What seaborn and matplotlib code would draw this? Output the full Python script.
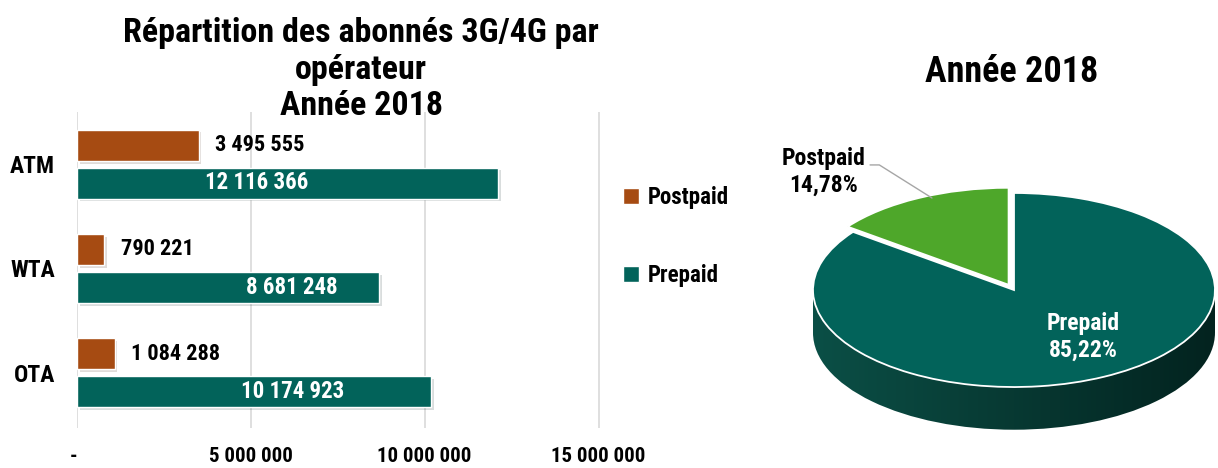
import numpy as np
import pandas as pd
import matplotlib.pyplot as plt
import matplotlib.patheffects as pe
from matplotlib.colors import LinearSegmentedColormap
from matplotlib.patches import Rectangle, Ellipse
import seaborn as sns

sns.set_style('white')
plt.rcParams['font.family'] = ['Roboto Condensed', 'DejaVu Sans']
plt.rcParams['font.weight'] = 'bold'
plt.rcParams['text.color'] = 'black'
plt.rcParams['xtick.color'] = 'black'
plt.rcParams['ytick.color'] = 'black'

# data
operators = ['ATM', 'WTA', 'OTA']
postpaid = [3495555, 790221, 1084288]
prepaid = [12116366, 8681248, 10174923]
types = ['Postpaid', 'Prepaid']
pie_labels = ['Postpaid', 'Prepaid']
pie_share = [14.78, 85.22]
xticks = [0, 5000000, 10000000, 15000000]

bar_colors = ['#A64B12', '#02635A']
pie_colors = ['#4EA72A', '#02635A']

def fmt(v):
    return f"{v:,}".replace(",", " ")

df = pd.DataFrame({
    'operator': operators * 2,
    'value': postpaid + prepaid,
    'type': ['Postpaid'] * 3 + ['Prepaid'] * 3,
})

fig = plt.figure(figsize=(12.18, 4.68), dpi=100)

# bar chart
ax = fig.add_axes([77 / 1218, 40 / 468, 525 / 1218, 316 / 468])
sns.barplot(data=df, y='operator', x='value', hue='type', hue_order=types,
            orient='h', palette=bar_colors, width=0.727, gap=0.18,
            saturation=1, ax=ax)
for p in ax.patches:
    p.set_path_effects([pe.SimplePatchShadow(offset=(2, -2), alpha=0.15), pe.Normal()])

ax.set_xlim(0, 15100000)
ax.set_ylim(2.53, -0.5)
ax.set_xticks(xticks)
ax.set_xticklabels(['-'] + [fmt(t) for t in xticks[1:]])
ax.get_xticklabels()[0].set_horizontalalignment('right')
ax.grid(axis='x', color='#D9D9D9', lw=1.2)
ax.set_axisbelow(True)
sns.despine(ax=ax, left=True, bottom=True)
ax.tick_params(axis='x', length=0, pad=14, labelsize=15)
ax.tick_params(axis='y', length=0, pad=16, labelsize=17)
ax.set_xlabel('')
ax.set_ylabel('')

ax.bar_label(ax.containers[0], labels=[fmt(v) for v in postpaid],
             padding=12, fontsize=16, color='black')
prepaid_label_x = [5.18e6, 6.19e6, 6.19e6]
for i, v in enumerate(prepaid):
    ax.text(prepaid_label_x[i], i + 0.18, fmt(v), color='white', fontsize=16.5,
            ha='center', va='center')

sns.move_legend(ax, loc='upper left', bbox_to_anchor=(1.0, 0.83), frameon=False,
                title=None, fontsize=16.5, labelspacing=2.4, handlelength=0.7,
                handleheight=0.7, handletextpad=0.4)

fig.text(361 / 1218, 1 - 17 / 468,
         "Répartition des abonnés 3G/4G par\nopérateur\nAnnée 2018",
         ha='center', va='top', fontsize=24.5, linespacing=1.18)

# pie chart (3D look)
ax2 = fig.add_axes([793 / 1218, 18 / 468, 425 / 1218, 310 / 468])
d = 0.44
side = np.linspace(0, 1, 256).reshape(1, -1)
cmap = LinearSegmentedColormap.from_list('side', ['#0B4F46', '#03231F'])
rect = Rectangle((-1, -d), 2, d, transform=ax2.transData, facecolor='none', edgecolor='none')
ell = Ellipse((0, -d), 2, 2, transform=ax2.transData, facecolor='none', edgecolor='none')
ax2.add_patch(rect)
ax2.add_patch(ell)
for clip in [rect, ell]:
    im = ax2.imshow(side, cmap=cmap, extent=[-1, 1, -d - 1, 0], aspect='auto', zorder=0)
    im.set_clip_path(clip)

ax2.pie(pie_share, colors=pie_colors, startangle=90, counterclock=True,
        explode=[0.06, 0], wedgeprops=dict(edgecolor='white', linewidth=1.3))
ax2.set_aspect('auto')
ax2.set_xlim(-1.0995, 1.015)
ax2.set_ylim(-1.649, 1.546)
ax2.axis('off')

ax2.text(0.343, -0.485, f"{pie_labels[1]}\n{pie_share[1]:.2f}%".replace('.', ','),
         color='white', fontsize=17, ha='center', va='center', linespacing=1.2)
ax2.text(-0.945, 1.22, f"{pie_labels[0]}\n{pie_share[0]:.2f}%".replace('.', ','),
         color='black', fontsize=17, ha='center', va='center', linespacing=1.2)
ax2.plot([-0.716, -0.67, -0.408], [1.289, 1.289, 0.948], color='#A6A6A6', lw=1)

fig.text(1012 / 1218, 1 - 72 / 468, "Année 2018", ha='center', va='center', fontsize=26)

fig.savefig('out.png', dpi=100)
